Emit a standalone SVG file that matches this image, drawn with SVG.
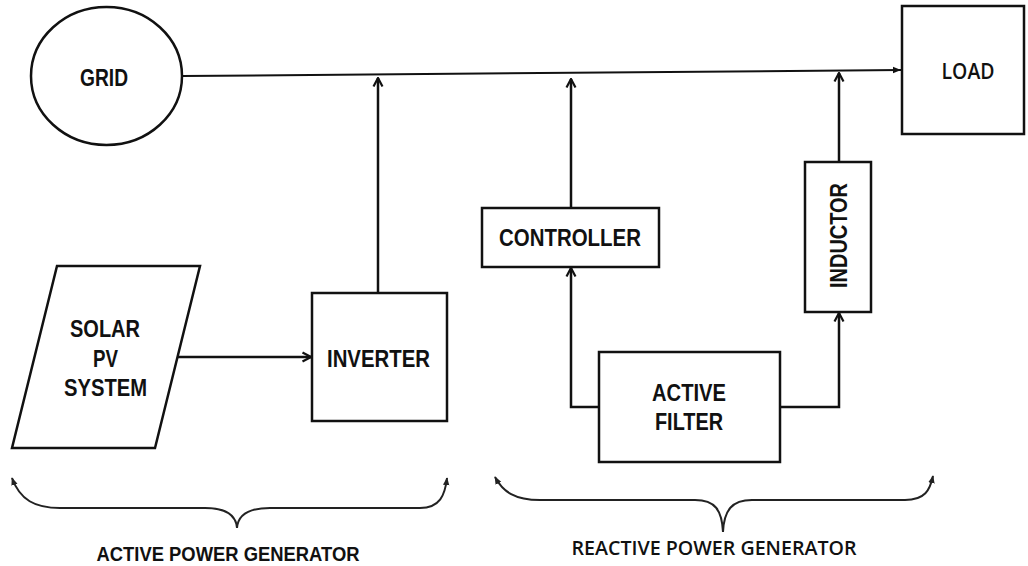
<svg xmlns="http://www.w3.org/2000/svg" width="1028" height="566" viewBox="0 0 1028 566">
  <style>
    .box { fill: #ffffff; stroke: #111111; stroke-width: 2.5; }
    .wire { fill: none; stroke: #111111; stroke-width: 2.5; }
    .bus { fill: none; stroke: #111111; stroke-width: 2; }
    .brace { fill: none; stroke: #222222; stroke-width: 2; }
    .lbl { font-family: "Liberation Sans", Arial, sans-serif; font-weight: bold; font-size: 23px; fill: #111111; text-anchor: middle; }
    .soft { font-family: "Open Sans", "Liberation Sans", sans-serif; font-weight: 600; fill: #111111; text-anchor: middle; }
    .cap { font-family: "Liberation Sans", Arial, sans-serif; font-weight: bold; font-size: 21px; fill: #111111; text-anchor: middle; }
  </style>
  <defs>
    <marker id="open" viewBox="0 0 12 12" refX="10.5" refY="6" markerWidth="12" markerHeight="12" markerUnits="userSpaceOnUse" orient="auto">
      <path d="M2,1.5 L10.5,6 L2,10.5" fill="none" stroke="#111111" stroke-width="2.2"/>
    </marker>
    <marker id="solid" viewBox="0 0 10 10" refX="10" refY="5" markerWidth="9" markerHeight="8" markerUnits="userSpaceOnUse" orient="auto">
      <path d="M0,1 L10,5 L0,9 Z" fill="#111111"/>
    </marker>
    <marker id="tip" viewBox="0 0 10 10" refX="9" refY="5" markerWidth="8" markerHeight="8" markerUnits="userSpaceOnUse" orient="auto-start-reverse">
      <path d="M0,1 L10,5 L0,9 Z" fill="#222222"/>
    </marker>
  </defs>

  <rect width="1028" height="566" fill="#ffffff"/>

  <!-- connectors -->
  <g id="connectors">
    <path class="bus" d="M182,76 L901,70" marker-end="url(#solid)"/>
    <path class="wire" d="M378,293 L378,78" marker-end="url(#open)"/>
    <path class="wire" d="M571,208 L571,79" marker-end="url(#open)"/>
    <path class="wire" d="M839,162 L839,73" marker-end="url(#open)"/>
    <path class="wire" d="M178,357 L311,357" marker-end="url(#open)"/>
    <path class="wire" d="M599,407 L571,407 L571,268" marker-end="url(#open)"/>
    <path class="wire" d="M780,407 L839,407 L839,313" marker-end="url(#open)"/>
  </g>

  <g id="grid">
    <ellipse class="box" cx="106.5" cy="76" rx="75.5" ry="69"/>
    <text class="lbl" x="104" y="86" textLength="48" lengthAdjust="spacingAndGlyphs">GRID</text>
  </g>

  <g id="load">
    <rect class="box" x="902" y="6" width="122" height="128"/>
    <text class="soft" x="968" y="79" font-size="22" textLength="53" lengthAdjust="spacingAndGlyphs">LOAD</text>
  </g>

  <g id="solar-pv">
    <path class="box" d="M57,266 L200,266 L155,448 L12,448 Z"/>
    <text class="lbl" x="105" y="337" textLength="70" lengthAdjust="spacingAndGlyphs">SOLAR</text>
    <text class="lbl" x="105.5" y="367" textLength="25" lengthAdjust="spacingAndGlyphs">PV</text>
    <text class="lbl" x="105.5" y="396" textLength="83" lengthAdjust="spacingAndGlyphs">SYSTEM</text>
  </g>

  <g id="inverter">
    <rect class="box" x="312" y="293" width="135" height="128"/>
    <text class="lbl" x="378.5" y="367" textLength="103" lengthAdjust="spacingAndGlyphs">INVERTER</text>
  </g>

  <g id="controller">
    <rect class="box" x="482" y="208" width="177" height="59"/>
    <text class="lbl" x="570" y="246" textLength="142" lengthAdjust="spacingAndGlyphs">CONTROLLER</text>
  </g>

  <g id="inductor">
    <rect class="box" x="805" y="162" width="66" height="150"/>
    <text class="lbl" transform="translate(847,235.5) rotate(-90)" x="0" y="0" textLength="105" lengthAdjust="spacingAndGlyphs">INDUCTOR</text>
  </g>

  <g id="active-filter">
    <rect class="box" x="599" y="352" width="181" height="110"/>
    <text class="lbl" x="689" y="401" textLength="74" lengthAdjust="spacingAndGlyphs">ACTIVE</text>
    <text class="lbl" x="689" y="430" textLength="68" lengthAdjust="spacingAndGlyphs">FILTER</text>
  </g>

  <g id="active-power-generator">
    <path class="brace" d="M12,478 C20,500 35,508 60,508 L205,508 C225,508 236,515 237,528 C238,515 249,508 270,508 L420,508 C440,508 445,495 447,478" marker-start="url(#tip)" marker-end="url(#tip)"/>
    <text class="cap" x="228" y="561" textLength="263" lengthAdjust="spacingAndGlyphs">ACTIVE POWER GENERATOR</text>
  </g>

  <g id="reactive-power-generator">
    <path class="brace" d="M495,477 C503,492 515,500 540,500 L695,500 C715,500 722,510 723,532 C724,510 732,500 752,500 L905,500 C925,500 930,490 933,476" marker-start="url(#tip)" marker-end="url(#tip)"/>
    <text class="soft" x="714" y="555" font-size="20" textLength="285" lengthAdjust="spacingAndGlyphs">REACTIVE POWER GENERATOR</text>
  </g>
</svg>
